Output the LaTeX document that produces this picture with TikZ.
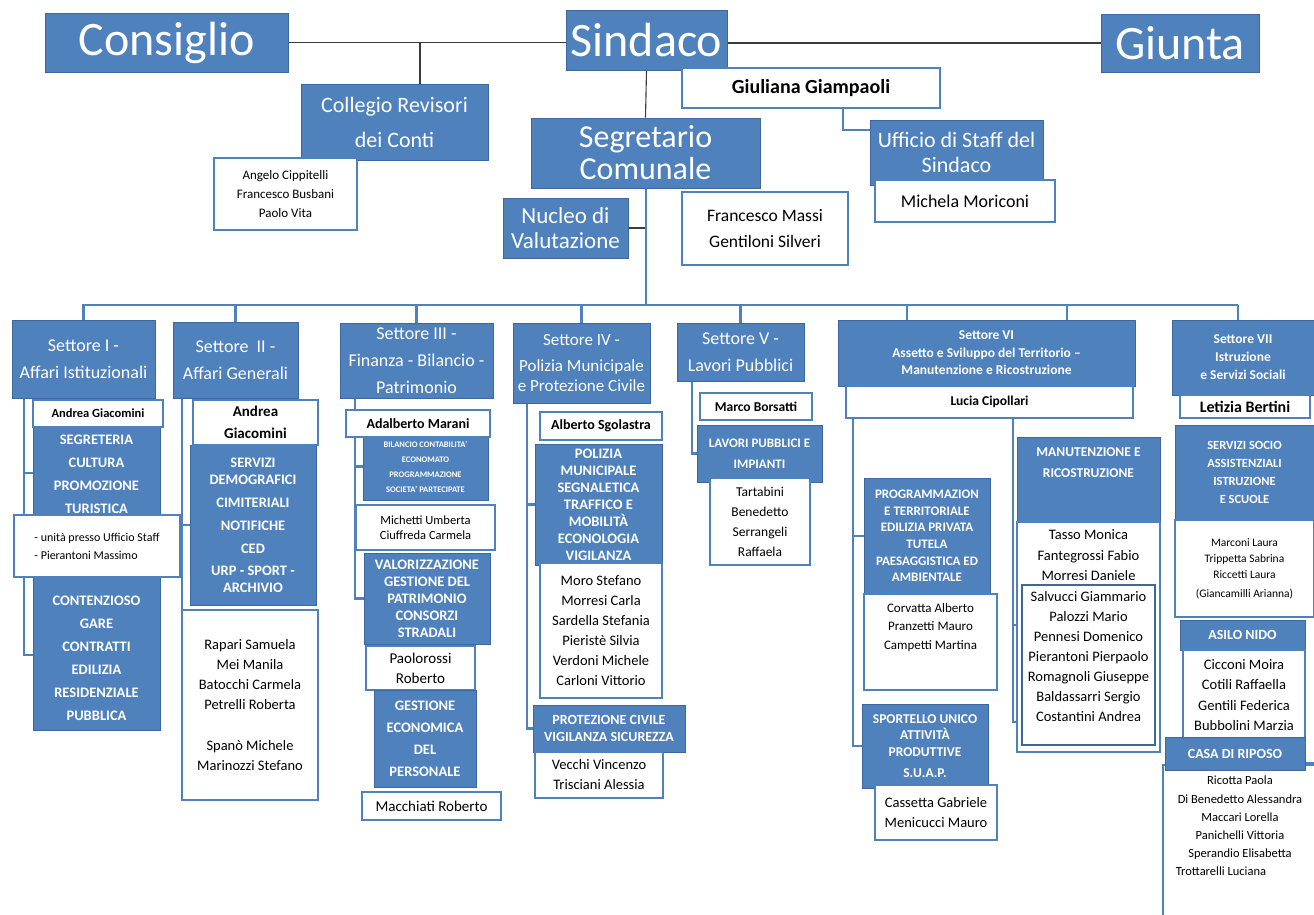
\documentclass[tikz,border=0pt]{standalone}
\usepackage{fontspec}
\setmainfont{Carlito}
\usepackage{tikz}
\usetikzlibrary{calc}

\definecolor{ufblue}{RGB}{79,129,189}
\definecolor{ufedge}{RGB}{60,104,158}
\definecolor{ufline}{RGB}{60,60,60}
\newcommand{\ufsize}[2]{\fontsize{#1}{#2}\selectfont}

\pgfdeclarelayer{bg}
\pgfsetlayers{bg,main}

\tikzset{
	sz/.style 2 args={minimum width=#1, minimum height=#2},
	blu/.style={fill=ufblue, draw=ufedge, line width=0.8pt, text=white, align=center, inner sep=0pt},
	wht/.style={fill=white, draw=ufblue, line width=2.2pt, text=black, align=center, inner sep=0pt},
	txt/.style={align=center, inner sep=0pt, text=black},
	topline/.style={draw=ufline, line width=1.1pt},
	conn/.style={draw=ufblue, line width=2.4pt},
}

\begin{document}
\begin{tikzpicture}[x=1pt, y=-1pt]
	\useasboundingbox (0,0) rectangle (1314,914);

	% vertice
	\node[blu, sz={243}{59}, font=\ufsize{48}{52}] (consiglio) at (166.5,42.5) {Consiglio};
	\node[blu, sz={161}{60}, font=\ufsize{48}{52}] (sindaco) at (646.5,40) {Sindaco};
	\node[blu, sz={158}{58}, font=\ufsize{48}{52}] (giunta) at (1180,43) {Giunta};
	\node[blu, sz={187}{76}, font=\ufsize{22}{35}] (revisori) at (394.5,122) {Collegio Revisori\\dei Conti};
	\node[wht, sz={143}{72}, font=\ufsize{13}{19}] (revnomi) at (285.5,194) {Angelo Cippitelli\\Francesco Busbani\\Paolo Vita};
	\node[wht, sz={258}{40}, font=\bfseries\ufsize{20}{24}] (giampaoli) at (811,88) {Giuliana Giampaoli};
	\node[blu, sz={229}{70}, font=\ufsize{32}{32}] (segretario) at (645.5,153) {Segretario\\Comunale};
	\node[blu, sz={125}{60}, font=\ufsize{23}{25}] (nucleo) at (565.5,228) {Nucleo di\\Valutazione};
	\node[wht, sz={166}{73}, font=\ufsize{17.5}{26}] (massi) at (765,228.5) {Francesco Massi\\Gentiloni Silveri};
	\node[blu, sz={173}{65}, font=\ufsize{22}{25}] (staff) at (956.5,152.5) {Ufficio di Staff del\\Sindaco};
	\node[wht, sz={180}{42}, font=\ufsize{18}{22}] (moriconi) at (965,201) {Michela Moriconi};

	% settori
	\node[blu, sz={143}{78}, font=\ufsize{18}{27}] (s1) at (83.5,359) {Settore I -\\Affari Istituzionali};
	\node[blu, sz={125}{76}, font=\ufsize{18}{27}] (s2) at (235.5,360) {Settore~~II -\\Affari Generali};
	\node[blu, sz={153}{75}, font=\ufsize{18}{27}] (s3) at (416.5,360.5) {Settore III -\\Finanza - Bilancio -\\Patrimonio};
	\node[blu, sz={137}{80}, font=\ufsize{17}{20}] (s4) at (581.5,363) {Settore IV -\\[6pt]Polizia Municipale\\e Protezione Civile};
	\node[blu, sz={127}{58}, font=\ufsize{18}{27}] (s5) at (740.5,352) {Settore V -\\Lavori Pubblici};
	\node[blu, sz={297}{66}, font=\bfseries\ufsize{13.5}{17.5}] (s6) at (986.5,353) {Settore VI\\Assetto e Sviluppo del Territorio --\\Manutenzione e Ricostruzione};
	\node[wht, sz={287}{32}, font=\bfseries\ufsize{13.5}{16}] (lucia) at (989.5,402) {Lucia Cipollari};
	\node[blu, sz={142}{75}, font=\bfseries\ufsize{13.5}{18}] (s7) at (1243,357.5) {Settore VII\\Istruzione\\e Servizi Sociali};
	\node[wht, sz={130}{23}, font=\bfseries\ufsize{16}{18}] (letizia) at (1245,406.5) {Letizia Bertini};

	% settore I
	\node[blu, sz={127}{305}, font=\bfseries\ufsize{14.5}{23}] (seg1) at (96.5,577.5) {SEGRETERIA\\CULTURA\\PROMOZIONE\\TURISTICA\\[69pt]CONTENZIOSO\\GARE\\CONTRATTI\\EDILIZIA\\RESIDENZIALE\\PUBBLICA};
	\node[wht, sz={130}{27}, font=\bfseries\ufsize{12.5}{14}] (giac1) at (98,413.5) {Andrea Giacomini};
	\node[wht, sz={166}{62}, font=\ufsize{12}{18}, align=left] (unita1) at (97,546) {- unità presso Ufficio Staff\\- Pierantoni Massimo};

	% settore II
	\node[blu, sz={126}{160}, font=\bfseries\ufsize{14.5}{17}] (serv2) at (253,525) {SERVIZI\\DEMOGRAFICI\\[6pt]CIMITERIALI\\[6pt]NOTIFICHE\\[6pt]CED\\[5pt]URP - SPORT -\\ARCHIVIO};
	\node[wht, sz={125}{45}, font=\bfseries\ufsize{15}{22}] (giac2) at (255.5,422.5) {Andrea\\Giacomini};
	\node[wht, sz={136}{190}, font=\ufsize{14.5}{20}] (nomi2) at (250,705) {Rapari Samuela\\Mei Manila\\Batocchi Carmela\\Petrelli Roberta\\[21pt]Spanò Michele\\Marinozzi Stefano};

	% settore III
	\node[blu, sz={125}{67}, font=\bfseries\ufsize{8.5}{15}] (bil3) at (425.5,466.5) {BILANCIO CONTABILITA'\\ECONOMATO\\PROGRAMMAZIONE\\SOCIETA' PARTECIPATE};
	\node[wht, sz={144}{27}, font=\bfseries\ufsize{14}{18}] (marani) at (418,423.5) {Adalberto Marani};
	\node[wht, sz={139}{45}, font=\ufsize{12.5}{15}] (nomi3a) at (425.5,527.5) {Michetti Umberta\\Ciuffreda Carmela};
	\node[blu, sz={126}{91}, font=\bfseries\ufsize{14.5}{17}] (val3) at (427,598.5) {VALORIZZAZIONE\\GESTIONE DEL\\PATRIMONIO\\CONSORZI\\STRADALI};
	\node[wht, sz={109}{44}, font=\ufsize{15}{20}] (nomi3b) at (420.5,668) {Paolorossi\\Roberto};
	\node[blu, sz={102}{97}, font=\bfseries\ufsize{14.5}{22}] (gest3) at (425,738.5) {GESTIONE\\ECONOMICA\\DEL\\PERSONALE};
	\node[wht, sz={139}{28}, font=\ufsize{15}{18}] (macch3) at (431.5,806) {Macchiati Roberto};

	% settore IV
	\node[blu, sz={127}{121}, font=\bfseries\ufsize{14.5}{17}] (pol4) at (598.5,504.5) {POLIZIA\\MUNICIPALE\\SEGNALETICA\\TRAFFICO E\\MOBILITÀ\\ECONOLOGIA\\VIGILANZA};
	\node[wht, sz={122}{28}, font=\bfseries\ufsize{14}{18}] (sgol4) at (601,426) {Alberto Sgolastra};
	\node[wht, sz={122}{135}, font=\ufsize{14.5}{20}] (nomi4a) at (601,630.5) {Moro Stefano\\Morresi Carla\\Sardella Stefania\\Pieristè Silvia\\Verdoni Michele\\Carloni Vittorio};
	\node[blu, sz={152}{47}, font=\bfseries\ufsize{14}{17}] (prot4) at (609,728.5) {PROTEZIONE CIVILE\\VIGILANZA SICUREZZA};
	\node[wht, sz={128}{46}, font=\ufsize{14.5}{20}] (nomi4b) at (599,775) {Vecchi Vincenzo\\Trisciani Alessia};

	% settore V
	\node[blu, sz={125}{57}, font=\bfseries\ufsize{13}{21}] (lav5) at (759.5,453.5) {LAVORI PUBBLICI E\\IMPIANTI};
	\node[wht, sz={112}{27}, font=\bfseries\ufsize{13.5}{16}] (bors5) at (756,406.5) {Marco Borsatti};
	\node[wht, sz={100}{87}, font=\ufsize{13.5}{20}] (nomi5) at (760,521.5) {Tartabini\\Benedetto\\Serrangeli\\Raffaela};

	% settore VI
	\node[blu, sz={126}{116}, font=\bfseries\ufsize{13}{16.6}] (prog6) at (927,536) {PROGRAMMAZION\\E TERRITORIALE\\EDILIZIA PRIVATA\\TUTELA\\PAESAGGISTICA ED\\AMBIENTALE};
	\node[wht, sz={133}{96}] (nomi6a) at (930.5,642) {};
	\node[txt, font=\ufsize{13}{18.5}] (nomi6at) at (930.5,627.5) {Corvatta Alberto\\Pranzetti Mauro\\Campetti Martina};
	\node[blu, sz={126}{84}, font=\bfseries\ufsize{13.5}{16.5}] (sport6) at (925,746) {SPORTELLO UNICO\\ATTIVITÀ\\PRODUTTIVE\\[5pt]S.U.A.P.};
	\node[wht, sz={122}{55}, font=\ufsize{14.5}{20}] (nomi6c) at (936,812.5) {Cassetta Gabriele\\Menicucci Mauro};
	\node[blu, sz={143}{85}] (man6) at (1088.5,479.5) {};
	\node[txt, text=white, font=\bfseries\ufsize{13.5}{21}] (man6t) at (1088.5,462.5) {MANUTENZIONE E\\RICOSTRUZIONE};
	\node[wht, sz={143}{230}] (tasso6) at (1088.5,637) {};
	\node[txt, font=\ufsize{14.5}{20.5}] (tasso6t) at (1088.5,555.5) {Tasso Monica\\Fantegrossi Fabio\\Morresi Daniele};
	\node[wht, draw=ufedge, line width=1.2pt, sz={133}{160}] (salv6) at (1088.5,665) {};
	\node[txt, font=\ufsize{14.5}{20}] (salv6t) at (1088.5,657) {Salvucci Giammario\\Palozzi Mario\\Pennesi Domenico\\Pierantoni Pierpaolo\\Romagnoli Giuseppe\\Baldassarri Sergio\\Costantini Andrea};

	% settore VII
	\node[blu, sz={139}{95}, font=\bfseries\ufsize{12.5}{18}] (soc7) at (1244.5,472.5) {SERVIZI SOCIO\\ASSISTENZIALI\\ISTRUZIONE\\E SCUOLE};
	\node[wht, sz={139}{97}, font=\ufsize{11.5}{16}] (nomi7a) at (1244.5,568.5) {Marconi Laura\\Trippetta Sabrina\\Riccetti Laura\\[3pt](Giancamilli Arianna)};
	\node[blu, sz={125}{30}, font=\bfseries\ufsize{14}{16}] (asilo7) at (1242.5,635) {ASILO NIDO};
	\node[wht, sz={122}{90}, font=\ufsize{14.5}{20.6}] (nomi7b) at (1244,695) {Cicconi Moira\\Cotili Raffaella\\Gentili Federica\\Bubbolini Marzia};
	\node[wht, sz={157}{165}] (nomi7c) at (1241.5,847.5) {};
	\node[blu, sz={140}{33}, font=\bfseries\ufsize{14}{16}] (casa7) at (1235,753.5) {CASA DI RIPOSO};
	\node[txt, font=\ufsize{12.5}{18.2}] (nomi7ct) at (1240,826) {Ricotta Paola\\Di Benedetto Alessandra\\Maccari Lorella\\Panichelli Vittoria\\Sperandio Elisabetta\\Trottarelli Luciana\hspace*{38pt}};

	\begin{pgfonlayer}{bg}
		\fill[white] (0,0) rectangle (1314,914);

		% linee in alto
		\draw[topline] (consiglio.east) -- (consiglio.east -| sindaco.west);
		\draw[topline] (giunta.west -| sindaco.east) -- (giunta.west);
		\draw[topline] ([xshift=25.5]revisori.north) -- ([xshift=25.5]revisori.north |- consiglio.east);
		\draw[topline] (sindaco.south) -- (segretario.north);
		\draw[topline] (nucleo.east) -- (nucleo.east -| segretario.south);
		\draw[conn, line width=2pt] ([xshift=32]giampaoli.south) |- ([yshift=22.5]staff.west);

		% dorsale dei settori
		\coordinate (busL) at (82,305);
		\coordinate (busR) at ([xshift=-5]s7.north |- busL);
		\draw[conn, line width=2pt] (segretario.south) -- (segretario.south |- busL);
		\draw[conn] (busL) -- (busR);
		\foreach \s in {s1,s2,s3,s4,s5}
			\draw[conn] (\s.north) -- (\s.north |- busL);
		\draw[conn] ([xshift=-79.5]s6.north) -- ([xshift=-79.5]s6.north |- busL);
		\draw[conn] ([xshift=80.5]s6.north) -- ([xshift=80.5]s6.north |- busL);
		\draw[conn] ([xshift=-5]s7.north) -- (busR);

		% rami interni
		\coordinate (c1) at ([xshift=-59.5]s1.south);
		\draw[conn] (c1) |- ([yshift=-77.5]seg1.west);
		\draw[conn] ([yshift=104.5]seg1.west) -- ([yshift=104.5]seg1.west -| c1);

		\coordinate (c2) at ([xshift=-53.5]s2.south);
		\draw[conn] (c2) -- (c2 |- nomi2.north);
		\draw[conn] (serv2.west) -- (serv2.west -| c2);

		\coordinate (c3) at ([xshift=-61.5]s3.south);
		\draw[conn] (c3) |- (val3.west);
		\draw[conn] (bil3.west) -- (bil3.west -| c3);

		\coordinate (c4) at ([xshift=-54.5]s4.south);
		\draw[conn] (c4) |- (prot4.west);
		\draw[conn] (pol4.west) -- (pol4.west -| c4);

		\coordinate (c5) at ([xshift=-48.5]s5.south);
		\draw[conn] (c5) |- (lav5.west);

		\coordinate (c6a) at ([xshift=-136.5]lucia.south);
		\draw[conn] (c6a) |- (sport6.west);
		\draw[conn] (prog6.west) -- (prog6.west -| c6a);
		\coordinate (c6b) at ([xshift=23.5]lucia.south);
		\draw[conn] (c6b) |- ([yshift=-85]tasso6.west);
		\draw[conn] ([yshift=12]tasso6.west) -- ([yshift=12]tasso6.west -| c6b);

		\draw[conn] ([yshift=-10]casa7.east) -- ++(12,0);
	\end{pgfonlayer}
\end{tikzpicture}
\end{document}
